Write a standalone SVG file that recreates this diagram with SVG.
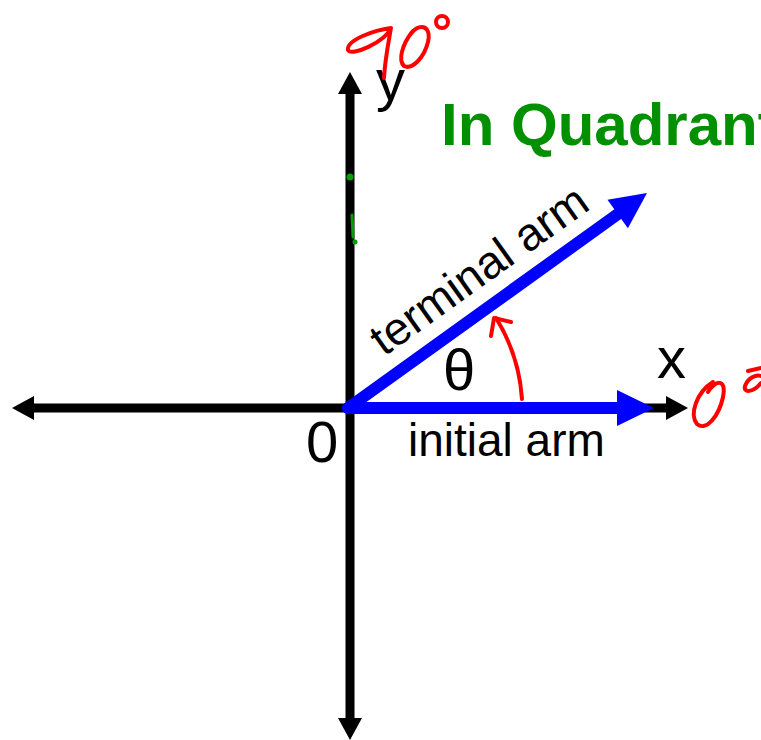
<svg xmlns="http://www.w3.org/2000/svg" width="761" height="740" viewBox="0 0 761 740">
<style>
.lbl{font-family:"Liberation Sans",Arial,sans-serif;fill:#000}
.big{font-size:58px}
.mid{font-size:46px}
.ink{fill:none;stroke:#ff0000;stroke-width:4;stroke-linecap:round;stroke-linejoin:round}
</style>
<rect width="761" height="740" fill="#fff"/>
<g id="connectors">
  <g id="x-axis">
    <line x1="32" y1="408" x2="668" y2="408" stroke="#000" stroke-width="9"/>
    <polygon points="12,408 34,396 34,420" fill="#000"/>
    <polygon points="688,408 666,396 666,420" fill="#000"/>
  </g>
  <g id="y-axis">
    <line x1="350" y1="93" x2="350" y2="720" stroke="#000" stroke-width="9"/>
    <polygon points="350,72 338,94 362,94" fill="#000"/>
    <polygon points="350,740 338,718 362,718" fill="#000"/>
  </g>
  <g id="initial-arm">
    <line x1="348" y1="408" x2="620" y2="408" stroke="#0000ff" stroke-width="12" stroke-linecap="round"/>
    <polygon points="654,408 617,390 617,426" fill="#0000ff"/>
  </g>
  <g id="terminal-arm">
    <line x1="348" y1="408" x2="620" y2="212.5" stroke="#0000ff" stroke-width="12" stroke-linecap="round"/>
    <polygon points="647,193 607.5,199.8 627.9,228.2" fill="#0000ff"/>
  </g>
  <g id="angle-arc">
    <path class="ink" d="M 522 399 A 176 176 0 0 0 496 318" stroke-width="3.5"/>
    <path class="ink" d="M 491 336 L 494 318 L 511 322" stroke-width="3.5"/>
  </g>
</g>
<g id="labels">
  <text class="lbl big" x="376" y="100">y</text>
  <text class="lbl big" x="657" y="378">x</text>
  <text class="lbl big" x="306" y="462">0</text>
  <text class="lbl big" x="443" y="390">θ</text>
  <text class="lbl mid" x="408" y="456">initial arm</text>
  <text class="lbl mid" transform="translate(384,357) rotate(-35.6)" x="0" y="0">terminal arm</text>
  <text x="441" y="145" style="font-family:'Liberation Sans',Arial,sans-serif;font-weight:bold;font-size:60px;fill:#009000">In Quadrant</text>
</g>
<g id="annotations">
  <path class="ink" d="M 391 28 C 375 30, 346 40, 348 50 C 351 57, 385 42, 391 28 C 388 45, 385 60, 384 78"/>
  <path class="ink" d="M 410 35 C 418 22, 432 25, 428 42 C 424 58, 412 70, 404 66 C 398 60, 402 45, 412 32"/>
  <ellipse class="ink" cx="442" cy="22" rx="6" ry="6"/>
  <path class="ink" d="M 708 392 C 714 381, 727 377, 723 397 C 719 416, 706 432, 697 424 C 689 414, 697 392, 713 382"/>
  <path class="ink" d="M 761 383 C 753 393, 743 393, 745 386 C 748 378, 756 374, 761 376"/>
  <path class="ink" d="M 748 371 L 761 368"/>
  <g fill="#00a000">
    <circle cx="350" cy="177" r="3.5"/>
    <line x1="352" y1="215" x2="353" y2="237" stroke="#00a000" stroke-width="3" stroke-linecap="round"/>
    <circle cx="355" cy="242" r="2.5"/>
  </g>
</g>
</svg>
